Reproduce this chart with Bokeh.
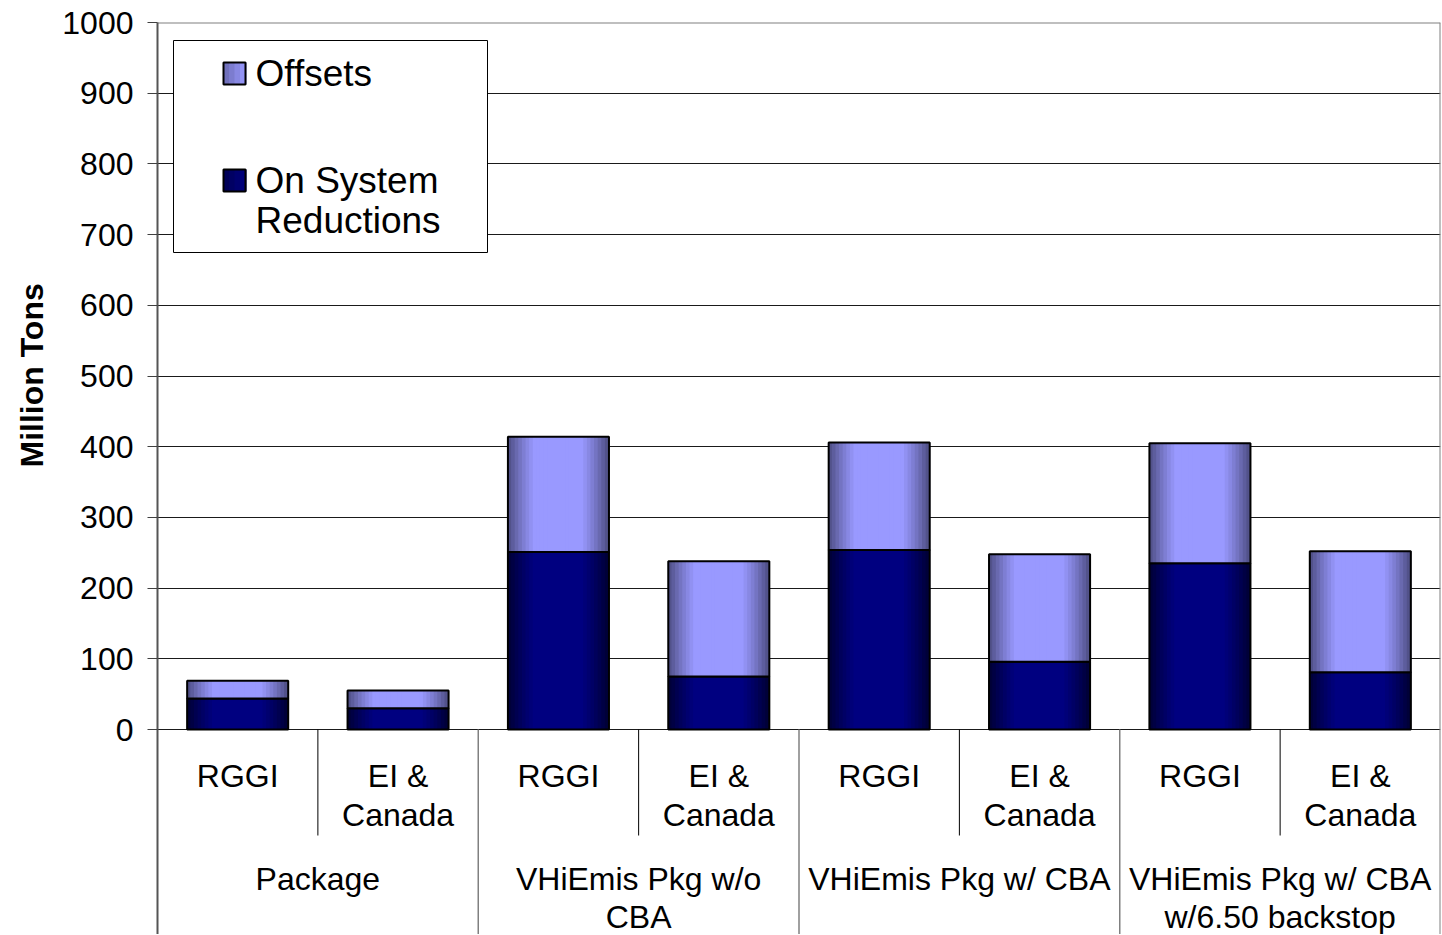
import math
import numpy as np
from bokeh.plotting import figure
from bokeh.models import Range1d, FixedTicker, ColumnDataSource, Label, BoxAnnotation, Title
from bokeh.core.properties import value
from bokeh.embed import file_html
from bokeh.resources import INLINE

# ---------------- data ----------------
groups = ["Package", "VHiEmis Pkg w/o\nCBA", "VHiEmis Pkg w/ CBA", "VHiEmis Pkg w/ CBA\nw/6.50 backstop"]
subcats = ["RGGI", "EI &\nCanada"]
categories = [s for g in groups for s in subcats]
on_system = [44, 30, 251, 75, 254, 96, 235, 81]
offsets = [25, 25, 163, 163, 152, 152, 170, 171]
y_ticks = [0, 100, 200, 300, 400, 500, 600, 700, 800, 900, 1000]
series_names = ["Offsets", "On System\nReductions"]
y_title = "Million Tons"

FONT = "Liberation Sans"
LEFT, TOP = 157, 22
FRAME_W = 1283
PLOT_H = 707            # pixels for 0..1000
FRAME_H = 912           # plot area + category table below it
BAR_W = 0.63
N_STRIPS = 28

NAVY_EDGE, NAVY_PEAK = (0, 0, 0x33), (0, 0, 0x80)
LAV_EDGE, LAV_PEAK = (0x4c, 0x4c, 0x80), (0x99, 0x99, 0xff)


def mix(c1, c2, g):
    return "#%02x%02x%02x" % tuple(int(round(a + (b - a) * g)) for a, b in zip(c1, c2))


def profile(t):
    return min(1.0, 1.35 * math.sin(math.pi * t))


n = len(categories)
xc = np.arange(n) + 0.5
bottoms_on = np.zeros(n)
tops_on = np.array(on_system, dtype=float)
bottoms_off = tops_on
tops_off = tops_on + np.array(offsets, dtype=float)

y_max = y_ticks[-1]
y_min = y_max - FRAME_H * y_max / PLOT_H

p = figure(x_range=Range1d(0, n), y_range=Range1d(y_min, y_max),
           frame_width=FRAME_W, frame_height=FRAME_H,
           min_border_left=LEFT, min_border_right=1, min_border_top=TOP, min_border_bottom=0,
           x_axis_location=None, toolbar_location=None, output_backend="svg",
           background_fill_color="white", border_fill_color="white")
# pixel-offset range (0 at top of frame) for the category table layout
p.extra_y_ranges = {"px": Range1d(FRAME_H, 0)}

p.xgrid.visible = False
p.ygrid.grid_line_color = "#1a1a1a"
p.ygrid.grid_line_width = 1
p.yaxis.ticker = FixedTicker(ticks=y_ticks)
p.yaxis.minor_tick_line_color = None
p.yaxis.major_tick_out = 10
p.yaxis.major_tick_in = 0
p.yaxis.axis_line_color = "#555555"
p.yaxis.axis_line_width = 2
p.yaxis.major_tick_line_color = "#404040"
p.yaxis.major_label_text_font = FONT
p.yaxis.major_label_text_font_size = "32px"
p.yaxis.major_label_text_color = "black"
p.yaxis.major_label_standoff = 14
p.outline_line_color = None

# y-axis title: starts (bottom end) at 467 px from the top of the page
p.add_layout(Title(text=y_title, align="left", offset=TOP + FRAME_H - 467,
                   text_font=FONT, text_font_size="32px", text_font_style="bold",
                   text_color="black", standoff=20), "left")


def draw_segment(bottoms, tops, edge, peak):
    sw = BAR_W / N_STRIPS
    xs, bs, ts, cs = [], [], [], []
    for k in range(N_STRIPS):
        t = (k + 0.5) / N_STRIPS
        col = mix(edge, peak, profile(t))
        for i in range(n):
            xs.append(xc[i] - BAR_W / 2 + (k + 0.5) * sw)
            bs.append(bottoms[i])
            ts.append(tops[i])
            cs.append(col)
    src = ColumnDataSource(dict(x=xs, bottom=bs, top=ts, color=cs))
    p.vbar(x="x", bottom="bottom", top="top", width=sw * 1.25, fill_color="color",
           line_color=None, source=src)
    p.vbar(x=xc, bottom=bottoms, top=tops, width=BAR_W, fill_alpha=0,
           line_color="black", line_width=2)


draw_segment(bottoms_on, tops_on, NAVY_EDGE, NAVY_PEAK)
draw_segment(bottoms_off, tops_off, LAV_EDGE, LAV_PEAK)

# plot-area border (top and right), gray
p.segment(x0=[0, n], x1=[n, n], y0=[0, 0], y1=[0, FRAME_H], line_color="#808080",
          line_width=2, y_range_name="px")


# ---------------- helpers for decoration placement ----------------
def dx(px):
    return (px - LEFT) / FRAME_W * n


def dy(py):
    return (TOP + PLOT_H - py) / PLOT_H * y_max


# ---------------- legend (manual, Excel-like) ----------------
p.add_layout(BoxAnnotation(left=dx(173), right=dx(487), top=dy(40), bottom=dy(252),
                           fill_color="white", fill_alpha=1, line_color="black", line_alpha=1,
                           line_width=1, level="overlay"))
legend_items = [(series_names[0], LAV_EDGE, LAV_PEAK, 73), (series_names[1], NAVY_EDGE, NAVY_PEAK, 180)]
for name, edge, peak, cy in legend_items:
    ns = 4
    for k in range(ns):
        g = 0.4 + 0.6 * (k + 0.5) / ns
        p.add_layout(BoxAnnotation(left=dx(223 + k * 22 / ns), right=dx(223 + (k + 1) * 22 / ns + 1),
                                   top=dy(cy - 11), bottom=dy(cy + 11),
                                   fill_color=mix(edge, peak, g), fill_alpha=1, line_color=None,
                                   level="overlay"))
    p.add_layout(BoxAnnotation(left=dx(223), right=dx(245), top=dy(cy - 11), bottom=dy(cy + 11),
                               fill_alpha=0, line_color="black", line_alpha=1, line_width=2,
                               level="overlay"))
    for j, line in enumerate(name.split("\n")):
        p.add_layout(Label(x=dx(255), y=dy(cy + j * 40), text=line, text_font=FONT,
                           text_font_size="37px", text_baseline="middle", text_align="left",
                           text_color="black", level="overlay"))

# ---------------- category table below the axis ----------------
per = len(subcats)
z = PLOT_H                      # pixel offset of the zero line
group_edges = [g * per for g in range(1, len(groups))]
sub_edges = [g * per + k for g in range(len(groups)) for k in range(1, per)]
p.segment(x0=group_edges, x1=group_edges, y0=z, y1=FRAME_H, line_color="#808080",
          line_width=1.5, y_range_name="px")
p.segment(x0=sub_edges, x1=sub_edges, y0=z, y1=z + 106, line_color="black",
          line_width=1, y_range_name="px")

for j in range(2):
    txt = [(c.split("\n") + [""])[j] for c in categories]
    p.text(x=xc, y=[z + 46 + 39 * j] * n, text=txt, text_font=value(FONT), text_font_size="32px",
           text_align="center", text_baseline="middle", text_color="black", y_range_name="px")
gx = np.array([g * per + per / 2 for g in range(len(groups))])
for j in range(2):
    txt = [(g.split("\n") + [""])[j] for g in groups]
    p.text(x=gx, y=[z + 149 + 38 * j] * len(groups), text=txt, text_font=value(FONT),
           text_font_size="32px", text_align="center", text_baseline="middle", text_color="black",
           y_range_name="px")

open("out.html", "w").write(file_html(p, INLINE))
